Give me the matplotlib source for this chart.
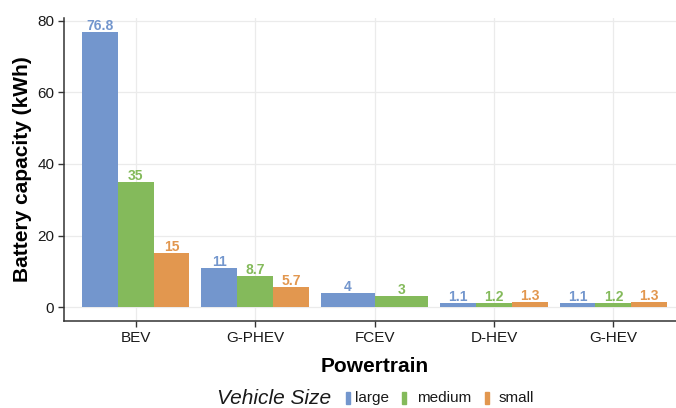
import matplotlib
matplotlib.use("Agg")
import matplotlib.pyplot as plt
from matplotlib.patches import Rectangle
import numpy as np

plt.rcParams['font.family'] = ['Liberation Sans', 'DejaVu Sans']

categories = ["BEV", "G-PHEV", "FCEV", "D-HEV", "G-HEV"]
sizes = ["large", "medium", "small"]
large = [76.8, 11, 4, 1.1, 1.1]
medium = [35, 8.7, 3, 1.2, 1.2]
small = [15, 5.7, None, 1.3, 1.3]
labels_large = ["76.8", "11", "4", "1.1", "1.1"]
labels_medium = ["35", "8.7", "3", "1.2", "1.2"]
labels_small = ["15", "5.7", None, "1.3", "1.3"]
colors = ["#7396CD", "#84BA5B", "#E2974F"]

W, H = 676, 408
fig = plt.figure(figsize=(W / 100, H / 100), dpi=100)
ax = fig.add_axes([64 / W, 1 - 321 / H, (685 - 64) / W, (321 - 18) / H])

series = [large, medium, small]
series_labels = [labels_large, labels_medium, labels_small]
total = 0.9
for i, cat in enumerate(categories):
    present = [k for k in range(3) if series[k][i] is not None]
    n = len(present)
    bw = total / n
    for j, k in enumerate(present):
        xc = i - total / 2 + bw * (j + 0.5)
        v = series[k][i]
        ax.bar(xc, v, width=bw, color=colors[k], edgecolor='none', zorder=2)
        ax.text(xc, v - 0.3, series_labels[k][i], ha='center', va='bottom',
                color=colors[k], fontsize=10, fontweight='bold', zorder=3)

ax.set_xlim(-0.6, 4.6)
ax.set_ylim(-3.9, 80.8)
ax.set_xticks(range(len(categories)))
ax.set_xticklabels(categories)
ax.set_yticks([0, 20, 40, 60, 80])
ax.grid(True, color='#EBEBEB', linewidth=0.9, zorder=0)
ax.set_axisbelow(True)
for s in ['top', 'right']:
    ax.spines[s].set_visible(False)
for s in ['left', 'bottom']:
    ax.spines[s].set_color('#333333')
    ax.spines[s].set_linewidth(1.1)
ax.tick_params(axis='both', colors='#333333', length=4, width=1.0, labelsize=11,
               labelcolor='#1a1a1a', pad=3)
ax.set_xlabel("Powertrain", fontsize=15, fontweight='bold', labelpad=9)
ax.set_ylabel("Battery capacity (kWh)", fontsize=15, fontweight='bold', labelpad=4)

# legend (manual, ggplot-style bottom legend)
ly = 1 - 398 / H
fig.text(217 / W, ly, "Vehicle Size", fontsize=15, fontstyle='italic',
         ha='left', va='center', color='#1a1a1a')
key_x = [346, 402, 485]
lab_x = [355, 417, 499]
for k in range(3):
    fig.patches.append(Rectangle((key_x[k] / W, 1 - 404 / H), 4 / W, 12 / H,
                                 transform=fig.transFigure, color=colors[k]))
    fig.text(lab_x[k] / W, ly, sizes[k], fontsize=11, ha='left', va='center',
             color='#1a1a1a')

fig.savefig("out.png", dpi=100)
